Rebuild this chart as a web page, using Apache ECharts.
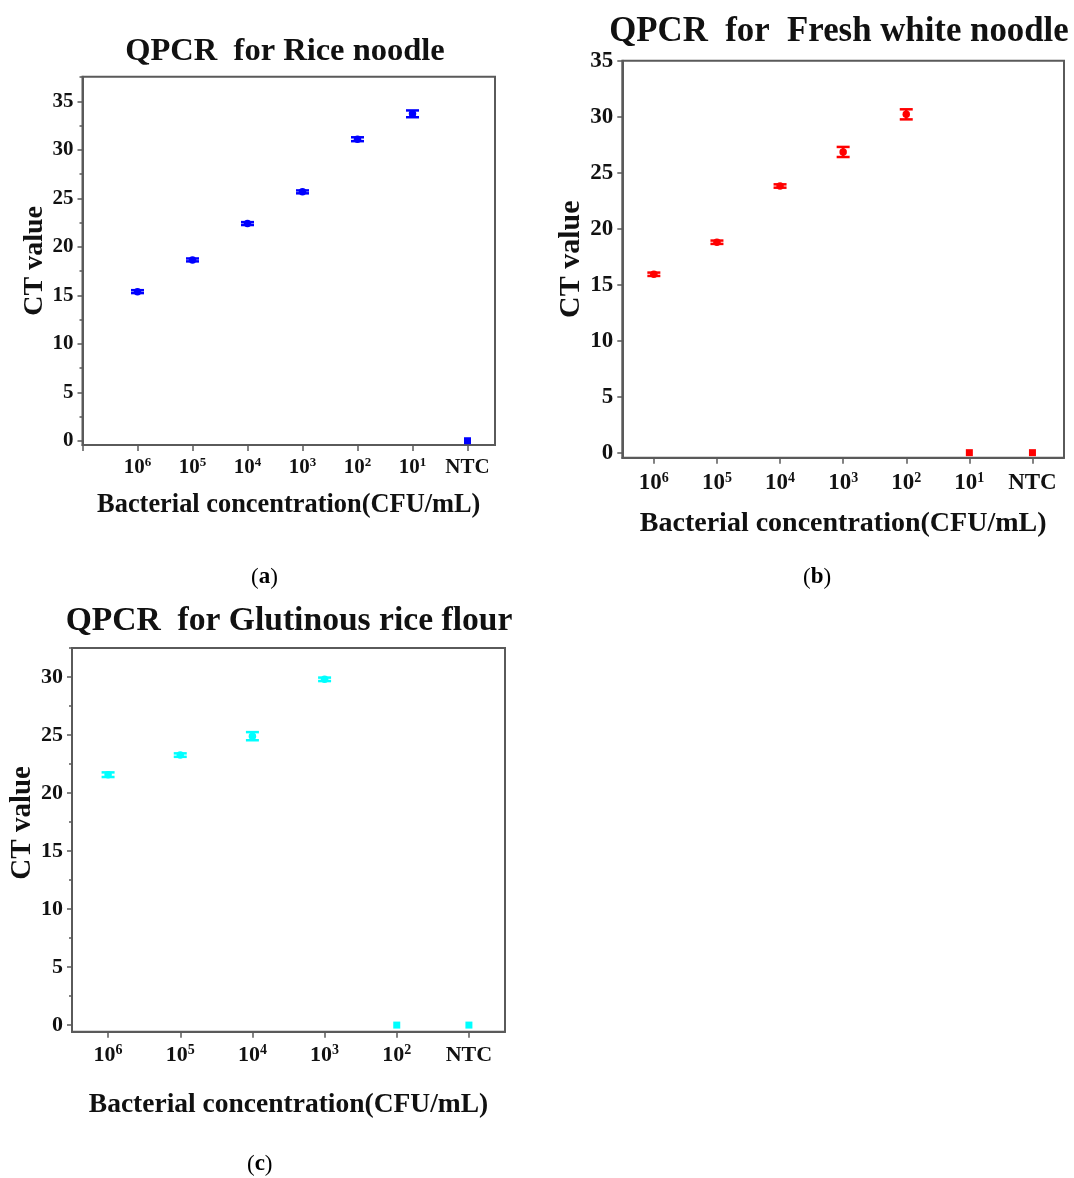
<!DOCTYPE html>
<html>
<head>
<meta charset="utf-8">
<title>QPCR CT values</title>
<script src="https://cdn.jsdelivr.net/npm/echarts@6/dist/echarts.min.js"></script>
<style>
  html, body { margin: 0; padding: 0; background: #fff; }
  #chart { width: 1074px; height: 1178px; }
</style>
</head>
<body>
<div id="chart"></div>
<script>
// concentration tick labels (x axis), "10^6" -> 10 with superscript 6
var riceLabels = ['10^6', '10^5', '10^4', '10^3', '10^2', '10^1', 'NTC'];
var noodleLabels = ['10^6', '10^5', '10^4', '10^3', '10^2', '10^1', 'NTC'];
var flourLabels = ['10^6', '10^5', '10^4', '10^3', '10^2', 'NTC'];

// mean CT value and error bar half-height per concentration
var riceCt = [15.38, 18.65, 22.4, 25.67, 31.1, 33.72, 0];
var riceErr = [0.15, 0.15, 0.15, 0.15, 0.2, 0.35, 0];
var noodleCt = [15.93, 18.79, 23.81, 26.85, 30.21, 0, 0];
var noodleErr = [0.15, 0.15, 0.15, 0.45, 0.45, 0, 0];
var flourCt = [21.58, 23.27, 24.9, 29.8, 0, 0];
var flourErr = [0.2, 0.15, 0.35, 0.15, 0, 0];

// y tick labels
var riceYTicks = [0, 5, 10, 15, 20, 25, 30, 35];
var noodleYTicks = [0, 5, 10, 15, 20, 25, 30, 35];
var flourYTicks = [0, 5, 10, 15, 20, 25, 30];

var axisColor = '#5a5a5a';
var serif = 'Liberation Serif, Times New Roman, serif';

var panels = [
  {
    title: 'QPCR  for Rice noodle', labels: riceLabels, ct: riceCt, err: riceErr, yTicks: riceYTicks,
    color: '#0000ff', tag: 'a',
    grid: { left: 82.5, top: 76.7, width: 412.5, height: 368.3 },
    xMin: 0, xMax: 7.5, xTickFrom: 0, yMin: -0.44, yMax: 37.55, minor: true,
    titleX: 280, titleTop: 30, titleSize: 32.5, tagX: 265, tagY: 580,
    font: 21, sup: 13, nameSize: 26.4, yNameSize: 28, xNameGap: 47, yNameGap: 34, xMargin: 12, yNameShift: 0
  },
  {
    title: 'QPCR  for  Fresh white noodle', labels: noodleLabels, ct: noodleCt, err: noodleErr, yTicks: noodleYTicks,
    color: '#ff0000', tag: 'b',
    grid: { left: 622.3, top: 60.7, width: 441.7, height: 397 },
    xMin: 0.5, xMax: 7.5, xTickFrom: 1, yMin: -0.45, yMax: 35, minor: false,
    titleX: 834, titleTop: 10, titleSize: 34.8, tagX: 817, tagY: 580,
    font: 23, sup: 14, nameSize: 28, yNameSize: 30, xNameGap: 52, yNameGap: 35, xMargin: 14, yNameShift: 0
  },
  {
    title: 'QPCR  for Glutinous rice flour', labels: flourLabels, ct: flourCt, err: flourErr, yTicks: flourYTicks,
    color: '#00ffff', tag: 'c',
    grid: { left: 72, top: 648, width: 433, height: 383.7 },
    xMin: 0.5, xMax: 6.5, xTickFrom: 1, yMin: -0.57, yMax: 32.5, minor: true,
    titleX: 284, titleTop: 599, titleSize: 33.6, tagX: 261, tagY: 1167,
    font: 22, sup: 14, nameSize: 27.5, yNameSize: 29, xNameGap: 59, yNameGap: 34, xMargin: 13, yNameShift: 34
  }
];

function concFormatter(labels) {
  return function (v) {
    var k = Math.round(v);
    if (Math.abs(v - k) > 1e-6 || !labels[k - 1]) return '';
    var parts = labels[k - 1].split('^');
    return parts.length === 2 ? '{b|' + parts[0] + '}{s|' + parts[1] + '}' : '{b|' + parts[0] + '}';
  };
}

function errorBar(params, api) {
  var x = api.value(0), y = api.value(1), e = api.value(2);
  var hi = api.coord([x, y + e]);
  var lo = api.coord([x, y - e]);
  var w = 6.5;
  var style = { stroke: api.visual('color'), lineWidth: 2.5 };
  return {
    type: 'group',
    children: [
      { type: 'line', shape: { x1: hi[0], y1: hi[1], x2: lo[0], y2: lo[1] }, style: style },
      { type: 'line', shape: { x1: hi[0] - w, y1: hi[1], x2: hi[0] + w, y2: hi[1] }, style: style },
      { type: 'line', shape: { x1: lo[0] - w, y1: lo[1], x2: lo[0] + w, y2: lo[1] }, style: style }
    ]
  };
}

var grid = [], xAxis = [], yAxis = [], series = [], title = [], graphic = [];

panels.forEach(function (p, i) {
  var positions = p.labels.map(function (l, j) { return j + 1; });
  var xTicks = [];
  for (var t = p.xTickFrom; t <= p.labels.length; t++) xTicks.push(t);

  grid.push(Object.assign({ show: true, borderColor: axisColor, borderWidth: 2, backgroundColor: 'transparent' }, p.grid));

  xAxis.push({
    gridIndex: i, type: 'value', min: p.xMin, max: p.xMax,
    axisLine: { onZero: false, lineStyle: { color: axisColor, width: 2 } },
    axisTick: { customValues: xTicks, length: 6, lineStyle: { color: axisColor, width: 1.5 } },
    axisLabel: {
      customValues: positions, margin: p.xMargin, formatter: concFormatter(p.labels),
      rich: {
        b: { fontFamily: serif, fontWeight: 'bold', fontSize: p.font, lineHeight: p.font, color: '#111' },
        s: { fontFamily: serif, fontWeight: 'bold', fontSize: p.sup, lineHeight: p.sup, color: '#111', padding: [0, 0, 10, 0] }
      }
    },
    splitLine: { show: false },
    name: 'Bacterial concentration(CFU/mL)', nameLocation: 'middle', nameGap: p.xNameGap,
    nameTextStyle: { fontFamily: serif, fontWeight: 'bold', fontSize: p.nameSize, color: '#111' }
  });

  yAxis.push({
    gridIndex: i, type: 'value', min: p.yMin, max: p.yMax,
    axisLine: { show: true, onZero: false, lineStyle: { color: axisColor, width: 2 } },
    axisTick: { show: true, customValues: p.yTicks, length: 5, lineStyle: { color: axisColor, width: 1.5 } },
    axisLabel: {
      customValues: p.yTicks, margin: 9,
      fontFamily: serif, fontWeight: 'bold', fontSize: p.font, color: '#111'
    },
    splitLine: { show: false },
    name: 'CT value', nameLocation: 'middle', nameGap: p.yNameGap,
    nameTextStyle: {
      fontFamily: serif, fontWeight: 'bold', fontSize: p.yNameSize, color: '#111',
      padding: [0, 0, 0, p.yNameShift]
    }
  });

  series.push({
    type: 'custom', xAxisIndex: i, yAxisIndex: i, color: p.color, silent: true,
    renderItem: errorBar,
    data: p.ct.map(function (v, j) { return [positions[j], v, p.err[j]]; })
      .filter(function (d) { return d[2] > 0; }),
    z: 3
  });
  series.push({
    type: 'scatter', xAxisIndex: i, yAxisIndex: i, color: p.color, silent: true,
    symbol: function (v) { return v[1] === 0 ? 'rect' : 'circle'; },
    symbolSize: function (v) { return v[1] === 0 ? 7 : 7.5; },
    itemStyle: { opacity: 1 },
    data: p.ct.map(function (v, j) { return [positions[j], v]; }),
    z: 4
  });

  title.push({
    text: p.title, left: p.titleX, top: p.titleTop, textAlign: 'center',
    textStyle: { fontFamily: serif, fontWeight: 'bold', fontSize: p.titleSize, color: '#111' }
  });

  graphic.push({
    type: 'text', left: p.tagX - 14, top: p.tagY - 14,
    style: {
      text: '{n|(}{b|' + p.tag + '}{n|)}',
      rich: {
        n: { fontFamily: serif, fontSize: 23, color: '#111' },
        b: { fontFamily: serif, fontSize: 23, fontWeight: 'bold', color: '#111' }
      }
    }
  });
});

// second overlapping grid per panel only for the minor y ticks at 2.5 steps
panels.forEach(function (p, i) {
  if (!p.minor) return;
  var gi = grid.length;
  var minorTicks = p.yTicks.map(function (v) { return v + 2.5; });
  grid.push(Object.assign({ show: false }, p.grid));
  xAxis.push({ gridIndex: gi, type: 'value', min: p.xMin, max: p.xMax, show: false });
  yAxis.push({
    gridIndex: gi, type: 'value', min: p.yMin, max: p.yMax,
    axisLine: { show: false, onZero: false },
    axisTick: { show: true, customValues: minorTicks, length: 3, lineStyle: { color: axisColor, width: 1.5 } },
    axisLabel: { show: false },
    splitLine: { show: false }
  });
});

var chart = echarts.init(document.getElementById('chart'));
chart.setOption({
  animation: false,
  backgroundColor: '#fff',
  title: title,
  grid: grid,
  xAxis: xAxis,
  yAxis: yAxis,
  series: series,
  graphic: graphic
});
window.addEventListener('resize', function () { chart.resize(); });
</script>
</body>
</html>
